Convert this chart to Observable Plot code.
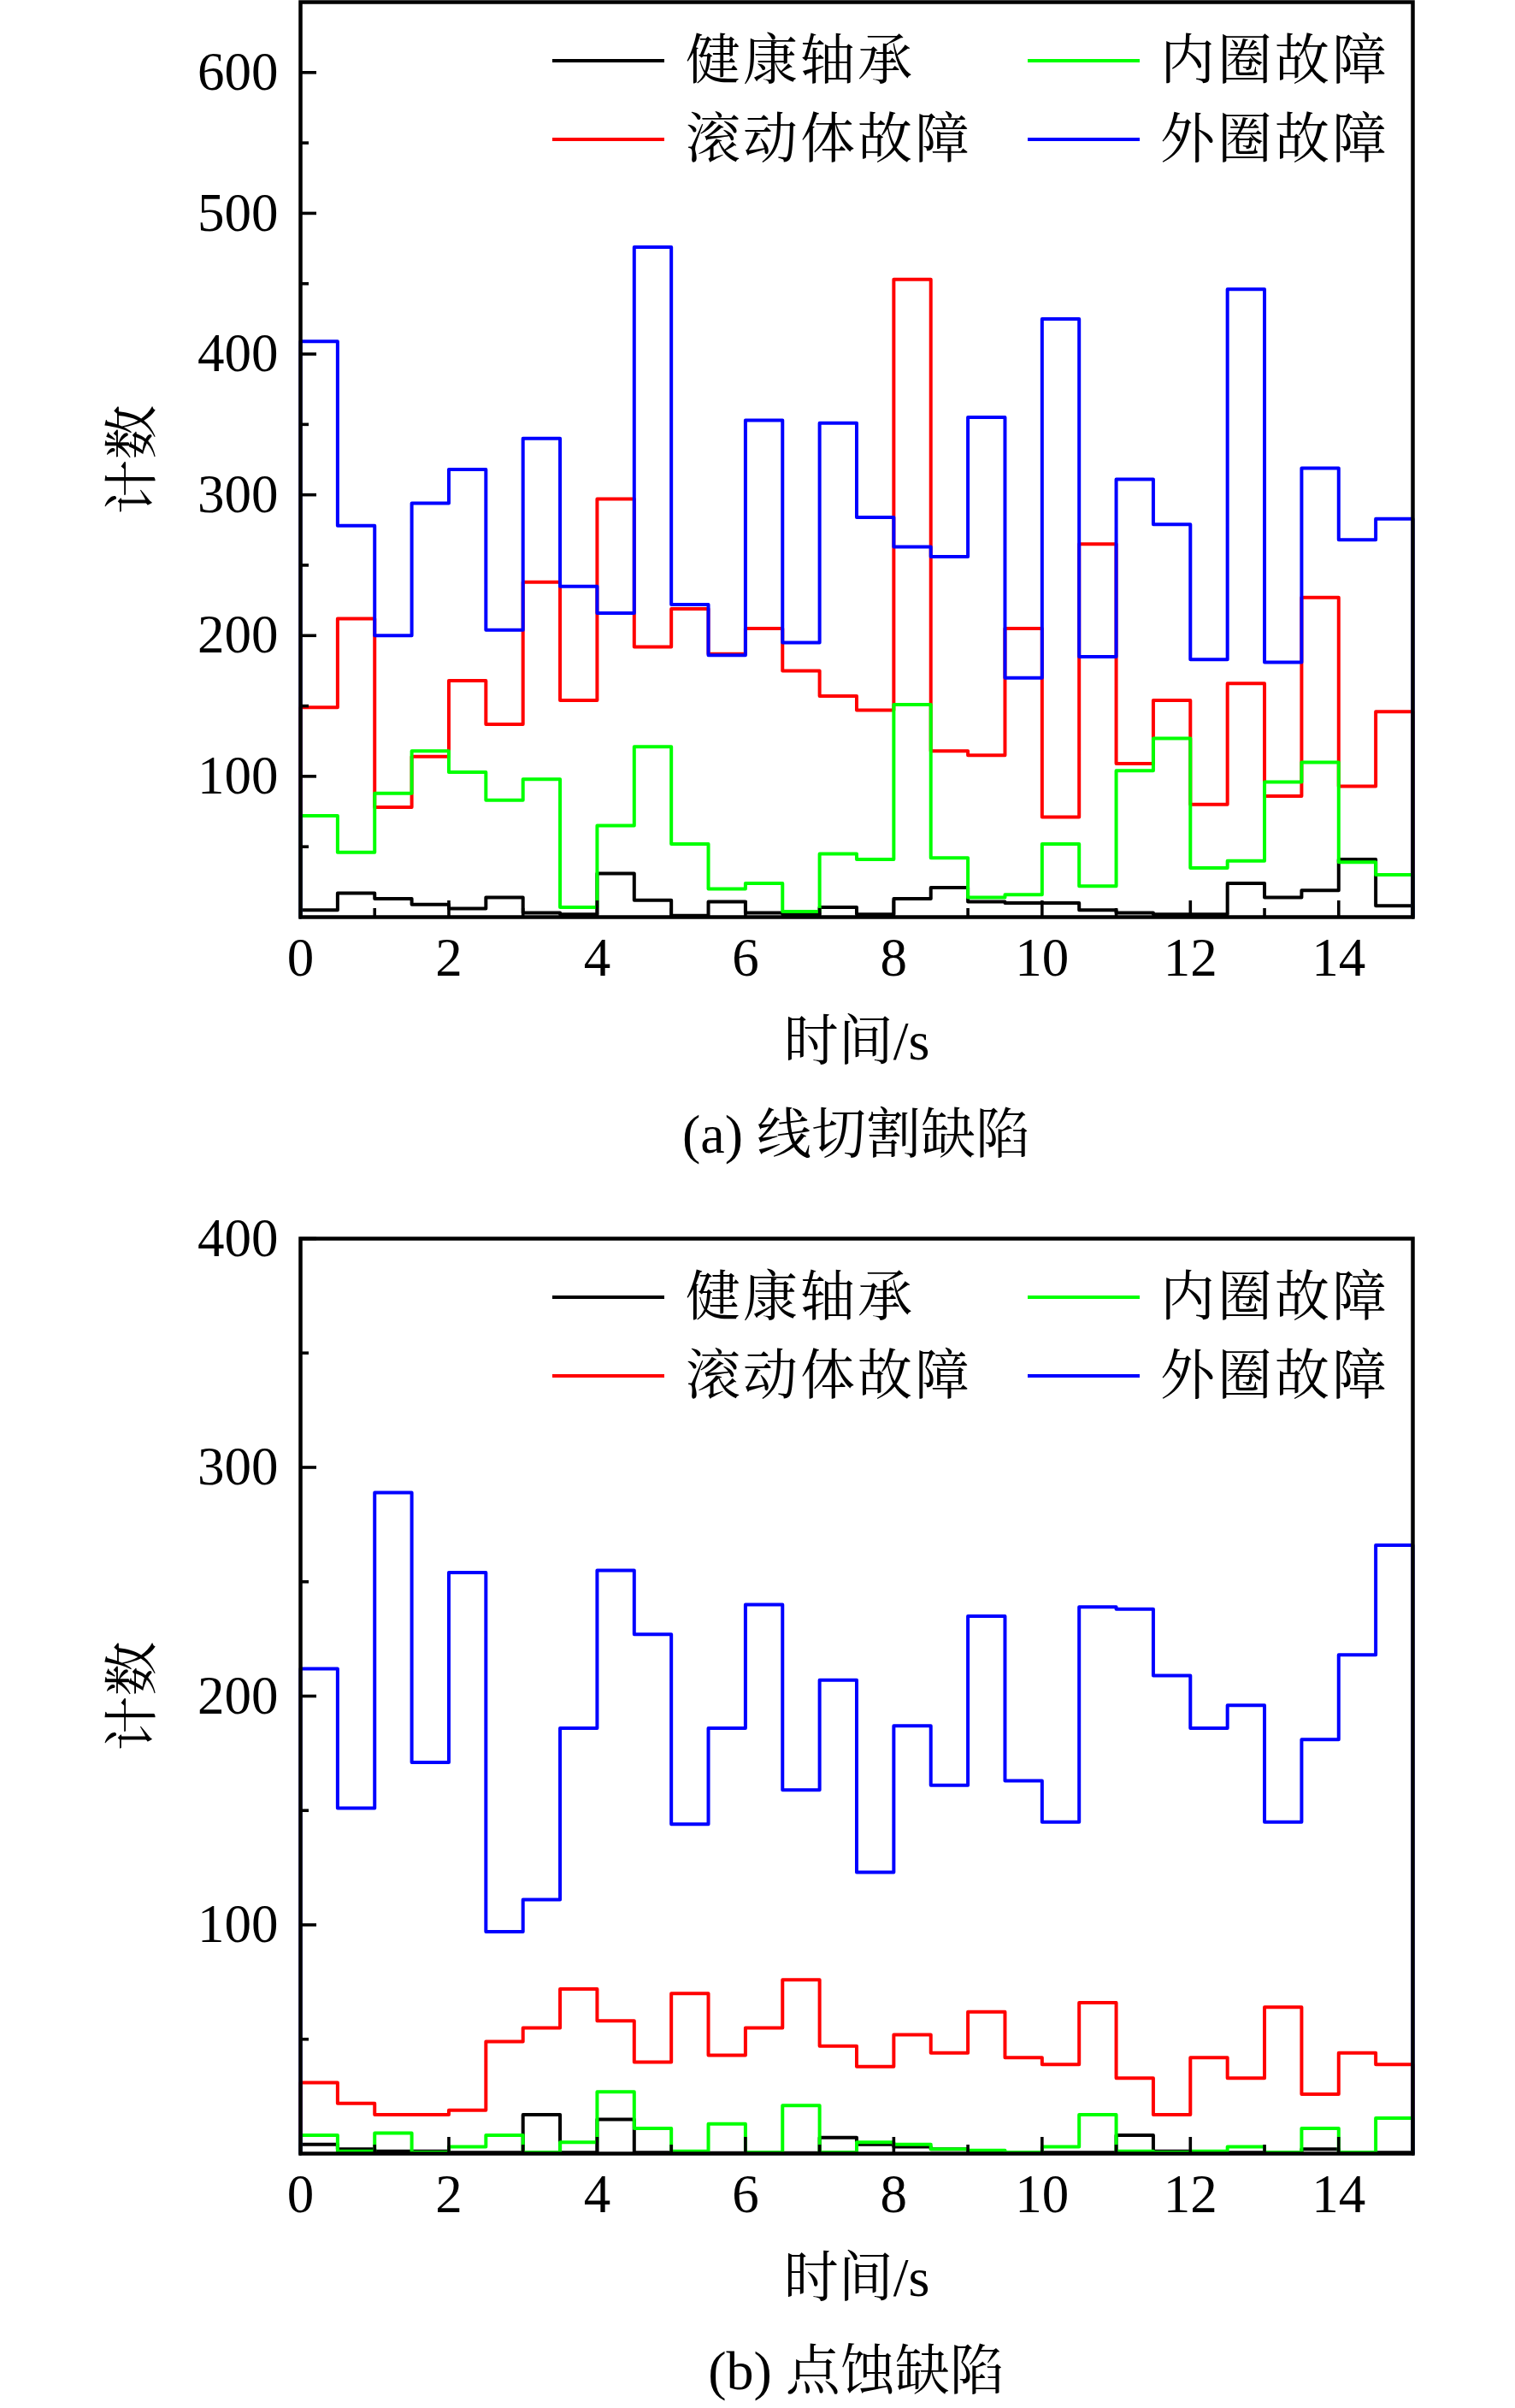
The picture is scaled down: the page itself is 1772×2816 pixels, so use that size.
<!DOCTYPE html>
<html><head><meta charset="utf-8">
<script src="https://cdn.jsdelivr.net/npm/d3@7"></script>
<script src="https://cdn.jsdelivr.net/npm/@observablehq/plot@0.6"></script>
<style>
html,body{margin:0;padding:0;background:#fff;}
#page{position:relative;width:1772px;height:2816px;overflow:hidden;font-family:"Liberation Serif","Noto Serif CJK SC","Noto Sans CJK SC",serif;color:#000;background:#fff;}
.chart{position:absolute;left:0;}
.lg-line{position:absolute;height:4px;}
.lg-text{position:absolute;font-size:64px;line-height:64px;height:64px;letter-spacing:3px;white-space:nowrap;}
.caption{position:absolute;left:351px;width:1301px;text-align:center;font-size:64px;line-height:80px;height:80px;white-space:nowrap;}
</style></head>
<body><div id="page"></div>
<script>
// ---- data ----
const timeBins = [0,0.5,1,1.5,2,2.5,3,3.5,4,4.5,5,5.5,6,6.5,7,7.5,8,8.5,9,9.5,10,10.5,11,11.5,12,12.5,13,13.5,14,14.5];
const timeEnd = 15;
const seriesNames = ["健康轴承","滚动体故障","内圈故障","外圈故障"];
const seriesColors = ["#000000","#ff0000","#00ff00","#0000ff"];

// (a) 线切割缺陷
const healthyA = [5,17,13,9,6,14,3,2,31,12,1,11,3,2,7,2,13,21,11,10,10,5,3,2,2,24,14,19,41,8];
const rollingA = [149,212,78,114,168,137,238,154,297,192,219,187,205,175,157,147,453,118,115,205,71,265,109,154,80,166,86,227,93,146];
const innerA   = [72,46,88,118,103,83,98,7,65,121,52,20,24,4,45,41,151,42,14,16,52,22,104,127,35,40,96,110,39,30];
const outerA   = [409,278,200,294,318,204,340,235,216,476,222,186,353,195,351,284,263,256,355,170,425,185,311,279,183,446,181,319,268,283];

// (b) 点蚀缺陷
const healthyB = [4,2,1,1,0.5,0.5,17,0.5,15,0.5,0.3,0.3,0.3,0.3,7,4,3,2,1,0.5,0.5,0.5,8,1,0.5,0.5,0.5,2,0.5,0.5];
const rollingB = [31,22,17,17,19,49,55,72,58,40,70,43,55,76,47,38,52,44,62,42,39,66,33,17,42,33,64,26,44,39];
const innerB   = [8,1,9,0.6,3,8,0.6,5,27,11,1,13,0.6,21,0.6,5,4,2,1.4,0.6,3,17,1,0.6,1,3,0.6,11,0.6,15.5];
const outerB   = [212,151,289,171,254,97,111,186,255,227,144,186,240,159,207,123,187,161,235,163,145,239,238,209,186,196,145,181,218,266];

// ticks
const xMajor = [0,2,4,6,8,10,12,14];
const xMinor = [1,3,5,7,9,11,13];
const yLabelsA = [100,200,300,400,500,600];
const yMinorA = [50,150,250,350,450,550];
const yLabelsB = [100,200,300,400];
const yMinorB = [50,150,250,350];

const xLabel = "时间/s";
const yLabel = "计数";
const captionA = "(a) 线切割缺陷";
const captionB = "(b) 点蚀缺陷";

// ---- drawing ----
const FONT = '"Liberation Serif","Noto Serif CJK SC","Noto Sans CJK SC",serif';
const W = 1772, ML = 351, MR = 120;
const page = document.getElementById("page");

function stepPoints(values) {
  const pts = [{x: 0, y: 0}];
  values.forEach((v, i) => pts.push({x: timeBins[i], y: v}));
  pts.push({x: timeEnd, y: values[values.length - 1]});
  pts.push({x: timeEnd, y: 0});
  return pts;
}

function makeChart({series, yMax, yLabels, yMinor, top, marginTop, plotH, marginBottom}) {
  const plotW = W - ML - MR;
  const height = marginTop + plotH + marginBottom;
  const lines = series.map((vals, i) =>
    Plot.line(stepPoints(vals), {x: "x", y: "y", curve: "step-after", stroke: seriesColors[i], strokeWidth: 4})
  );
  const svg = Plot.plot({
    width: W, height,
    marginLeft: ML, marginRight: MR, marginTop, marginBottom,
    style: {fontFamily: FONT, fontSize: "63px", color: "#000", background: "transparent", overflow: "visible"},
    x: {domain: [0, timeEnd]},
    y: {domain: [0, yMax]},
    marks: [
      ...lines,
      Plot.axisX({ticks: xMajor, tickSize: 0, tickPadding: 24, fontSize: 63, label: null, tickFormat: d => String(d)}),
      Plot.axisY({ticks: yLabels, tickSize: 0, tickPadding: 26, fontSize: 63, label: null, tickFormat: d => String(d)}),
      Plot.ruleX(xMajor.filter(d => d > 0), {stroke: "#000", strokeWidth: 3.6, insetTop: plotH - 19}),
      Plot.ruleX(xMinor, {stroke: "#000", strokeWidth: 3.6, insetTop: plotH - 10}),
      Plot.ruleY(yLabels, {stroke: "#000", strokeWidth: 3.6, insetRight: plotW - 19}),
      Plot.ruleY(yMinor, {stroke: "#000", strokeWidth: 3.6, insetRight: plotW - 10}),
      Plot.frame({stroke: "#000", strokeWidth: 4.5}),
      Plot.text([xLabel], {text: d => d, frameAnchor: "bottom", lineAnchor: "middle", textAnchor: "middle", dy: 146, fontSize: 64, fill: "#000"}),
      Plot.text([yLabel], {text: d => d, frameAnchor: "left", lineAnchor: "middle", textAnchor: "middle", dx: -196, rotate: -90, fontSize: 64, fill: "#000"})
    ]
  });
  const wrap = document.createElement("div");
  wrap.className = "chart";
  wrap.style.top = top + "px";
  wrap.appendChild(svg);
  page.appendChild(wrap);
  return {frameTop: top + marginTop, frameBottom: top + marginTop + plotH};
}

function addLegend(frameTop) {
  const rows = [frameTop + 69, frameTop + 161];
  const cols = [{line: 646, text: 802}, {line: 1202, text: 1357}];
  // column 1 -> 健康轴承, 滚动体故障 ; column 2 -> 内圈故障, 外圈故障
  const layout = [[0, 0, 0], [1, 0, 1], [2, 1, 0], [3, 1, 1]];
  layout.forEach(([si, ci, ri]) => {
    const ln = document.createElement("div");
    ln.className = "lg-line";
    ln.style.left = cols[ci].line + "px";
    ln.style.width = "131px";
    ln.style.top = (rows[ri] - 2) + "px";
    ln.style.background = seriesColors[si];
    page.appendChild(ln);
    const tx = document.createElement("div");
    tx.className = "lg-text";
    tx.style.left = cols[ci].text + "px";
    tx.style.top = (rows[ri] - 32) + "px";
    tx.textContent = seriesNames[si];
    page.appendChild(tx);
  });
}

function addCaption(text, centerY) {
  const c = document.createElement("div");
  c.className = "caption";
  c.style.top = (centerY - 40) + "px";
  c.textContent = text;
  page.appendChild(c);
}

const a = makeChart({series: [healthyA, rollingA, innerA, outerA], yMax: 650, yLabels: yLabelsA, yMinor: yMinorA,
  top: 0, marginTop: 2, plotH: 1070, marginBottom: 195});
addLegend(a.frameTop);
addCaption(captionA, a.frameBottom + 255);

const b = makeChart({series: [healthyB, rollingB, innerB, outerB], yMax: 400, yLabels: yLabelsB, yMinor: yMinorB,
  top: 1400, marginTop: 48, plotH: 1070, marginBottom: 195});
addLegend(b.frameTop);
addCaption(captionB, b.frameBottom + 255);
</script>
</body></html>
